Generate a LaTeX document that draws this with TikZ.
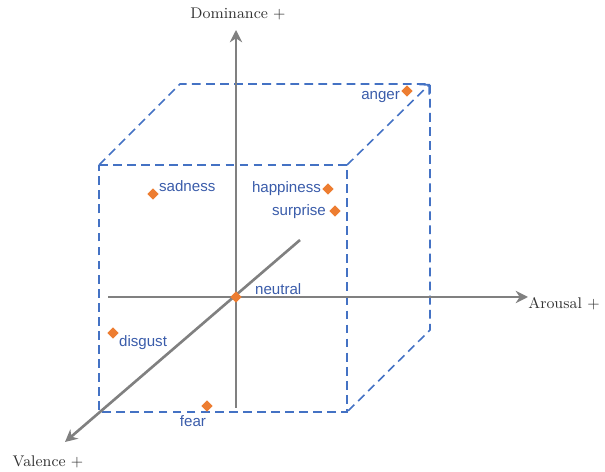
\documentclass[tikz,border=0pt]{standalone}
\usepackage{fontspec}
\newfontfamily\labfont{Liberation Sans}
\definecolor{cubeblue}{RGB}{68,114,196}
\definecolor{labblue}{RGB}{58,92,170}
\definecolor{dotorange}{RGB}{237,125,49}
\definecolor{axisgray}{RGB}{128,128,128}
\usetikzlibrary{arrows.meta, positioning, shapes.geometric}

\begin{document}
\begin{tikzpicture}[x=0.02cm, y=-0.02cm,
  cube/.style={draw=cubeblue, line width=0.9pt, dash pattern=on 5pt off 3pt},
  axis/.style={draw=axisgray, line width=1.5pt, -{Stealth[length=7pt, width=7pt]}},
  axlab/.style={font=\fontsize{8.8}{10}\selectfont, text=black!80},
  emo/.style={diamond, fill=dotorange, inner sep=0pt, minimum size=6.5pt},
  elab/.style={font=\labfont\fontsize{8.6}{10}\selectfont, text=labblue, inner sep=1pt}
]
\useasboundingbox (0,0) rectangle (605,472);

%% ── Cubo (l\'{i}neas punteadas) ─────────────────────────────────────
\coordinate (F1) at (99, 165);
\coordinate (F2) at (347,165);
\coordinate (F3) at (347,412);
\coordinate (F4) at (99, 412);
\coordinate (B1) at (180,84);
\coordinate (B2) at (430,84);
\coordinate (B3) at (430,330);

\draw[cube] (F1) -- (F2) -- (F3) -- (F4) -- cycle;
\draw[cube] (F1) -- (B1) -- (B2) -- (B3) -- (F3);
\draw[cube, -{Straight Barb[length=4pt]}] (F2) -- (B2);

%% ── Ejes ────────────────────────────────────────────────────────────
\coordinate (O)  at (236,297);
\coordinate (DB) at (236,408);
\coordinate (DT) at (236,30);
\coordinate (AL) at (108,297);
\coordinate (AR) at (528,297);
\coordinate (VB) at (300,240);
\coordinate (VF) at (65, 442);

\draw[axis] (DB) -- (DT);
\draw[axis] (AL) -- (AR);
\draw[axis] (VB) -- (VF);

\node[axlab] (LD) at (238,14)  {Dominance +};
\node[axlab] (LA) at (564,304) {Arousal +};
\node[axlab] (LV) at (48, 462) {Valence +};

%% ── Emociones ───────────────────────────────────────────────────────
\node[emo] (anger)     at (407,91)  {};
\node[emo] (sadness)   at (153,194) {};
\node[emo] (happiness) at (328,189) {};
\node[emo] (surprise)  at (335,211) {};
\node[emo] (neutral)   at (236,297) {};
\node[emo] (disgust)   at (113,333) {};
\node[emo] (fear)      at (207,406) {};

\node[elab, anchor=east]      at (402,97)  {anger};
\node[elab, anchor=west]      at (157,186) {sadness};
\node[elab, anchor=east]      at (323,189) {happiness};
\node[elab, anchor=east]      at (328,212) {surprise};
\node[elab, anchor=west]      at (253,289) {neutral};
\node[elab, anchor=west]      at (117,343) {disgust};
\node[elab]                   at (193,421) {fear};

\end{tikzpicture}
\end{document}
